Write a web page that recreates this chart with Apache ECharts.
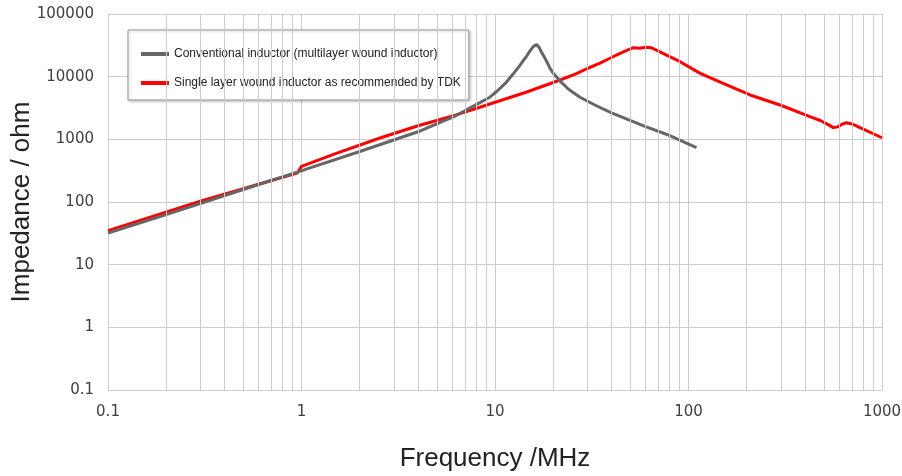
<!DOCTYPE html>
<html>
<head>
<meta charset="utf-8">
<script src="https://cdn.jsdelivr.net/npm/echarts@6/dist/echarts.min.js"></script>
<style>
  html, body { margin: 0; padding: 0; background: #fff; }
  #chart { width: 902px; height: 476px; }
</style>
</head>
<body>
<div id="chart"></div>
<script>
const chart = echarts.init(document.getElementById('chart'));

// conventional (multilayer) inductor
const grayFreq = [0.1, 0.2, 0.5, 0.95, 2, 4, 6.3, 8.35, 9.4, 10.2, 11.3, 12.4, 13.3, 14.0, 14.6, 15.2, 15.8, 16.4, 16.9, 17.4, 18.0, 18.5, 19.2, 20.0, 21.7, 24, 27.5, 33, 40, 60, 80, 110];
const grayZ = [32, 63, 158, 300, 640, 1320, 2400, 3850, 4700, 5800, 7800, 11000, 14500, 18000, 21500, 26000, 30500, 32500, 29500, 24500, 20500, 17500, 13800, 11300, 8500, 6300, 4700, 3500, 2650, 1600, 1150, 740];

// single layer wound inductor (TDK)
const redFreq = [0.1, 0.3, 0.95, 1.0, 1.5, 2.5, 4, 6.3, 8.35, 14.6, 21.7, 26, 30, 34.9, 39, 44.3, 49, 52, 56, 60, 64, 70, 77, 90, 115, 150, 208, 300, 424, 480, 530, 560, 590, 625, 656, 700, 800, 1000];
const redZ = [35, 103, 290, 370, 590, 1030, 1650, 2450, 3250, 5700, 8850, 11000, 13500, 16400, 19500, 23600, 27000, 29000, 28500, 29500, 29000, 25500, 22000, 17500, 11300, 7900, 5100, 3500, 2300, 2000, 1700, 1540, 1580, 1760, 1840, 1760, 1450, 1060];

// minor vertical grid lines (2..9 in each decade)
const decades = [0.1, 1, 10, 100];
const minorGrid = [];
decades.forEach(function (d) {
    for (let k = 2; k <= 9; k++) minorGrid.push(+(d * k).toPrecision(3));
});

const seriesNames = [
    'Conventional inductor (multilayer wound inductor)',
    'Single layer wound inductor as recommended by TDK'
];

function zip(xs, ys) {
    return xs.map(function (x, i) { return [x, ys[i]]; });
}

const gridColor = '#cccccc';
const labelStyle = { fontFamily: 'DejaVu Sans', fontSize: 15, color: '#404040' };
const fmt = function (v) { return String(+v.toPrecision(6)); };

const option = {
    animation: false,
    grid: { left: 108, right: 20, top: 14, bottom: 86, outerBoundsMode: 'none' },
    legend: {
        orient: 'vertical',
        left: 128,
        top: 30,
        padding: [18, 8, 11, 13],
        itemGap: 17,
        itemWidth: 28,
        itemHeight: 4,
        icon: 'rect',
        backgroundColor: '#fff',
        borderColor: '#9a9a9a',
        borderWidth: 1,
        shadowColor: 'rgba(0,0,0,0.25)',
        shadowBlur: 3,
        shadowOffsetX: 1,
        shadowOffsetY: 1,
        textStyle: { fontFamily: 'Liberation Sans', fontSize: 12, color: '#222' },
        data: seriesNames
    },
    xAxis: {
        type: 'log',
        logBase: 10,
        min: 0.1,
        max: 1000,
        splitNumber: 4,
        name: 'Frequency /MHz',
        nameLocation: 'middle',
        nameGap: 56,
        nameTextStyle: { fontFamily: 'Liberation Sans', fontSize: 26, color: '#222' },
        axisLine: { lineStyle: { color: gridColor } },
        axisTick: { show: false },
        axisLabel: Object.assign({ margin: 15, formatter: fmt }, labelStyle),
        splitLine: { show: true, lineStyle: { color: gridColor } }
    },
    yAxis: {
        type: 'log',
        logBase: 10,
        min: 0.1,
        max: 100000,
        splitNumber: 6,
        name: 'Impedance / ohm',
        nameLocation: 'middle',
        nameGap: 73,
        nameMoveOverlap: false,
        nameTextStyle: { fontFamily: 'Liberation Sans', fontSize: 26, color: '#222' },
        axisLine: { show: true, lineStyle: { color: gridColor } },
        axisTick: { show: false },
        axisLabel: Object.assign({ margin: 14, formatter: fmt }, labelStyle),
        splitLine: { show: true, lineStyle: { color: gridColor } }
    },
    series: [
        {
            type: 'line',
            data: [],
            silent: true,
            z: 1,
            markLine: {
                silent: true,
                symbol: 'none',
                label: { show: false },
                lineStyle: { color: gridColor, type: 'solid', width: 1 },
                data: minorGrid.map(function (v) { return { xAxis: v }; })
            }
        },
        {
            name: seriesNames[0],
            type: 'line',
            data: zip(grayFreq, grayZ),
            showSymbol: false,
            z: 3,
            itemStyle: { color: '#666666' },
            lineStyle: { color: '#666666', width: 3 }
        },
        {
            name: seriesNames[1],
            type: 'line',
            data: zip(redFreq, redZ),
            showSymbol: false,
            z: 2,
            itemStyle: { color: '#ff0000' },
            lineStyle: { color: '#ff0000', width: 3 }
        }
    ]
};

chart.setOption(option);
</script>
</body>
</html>
